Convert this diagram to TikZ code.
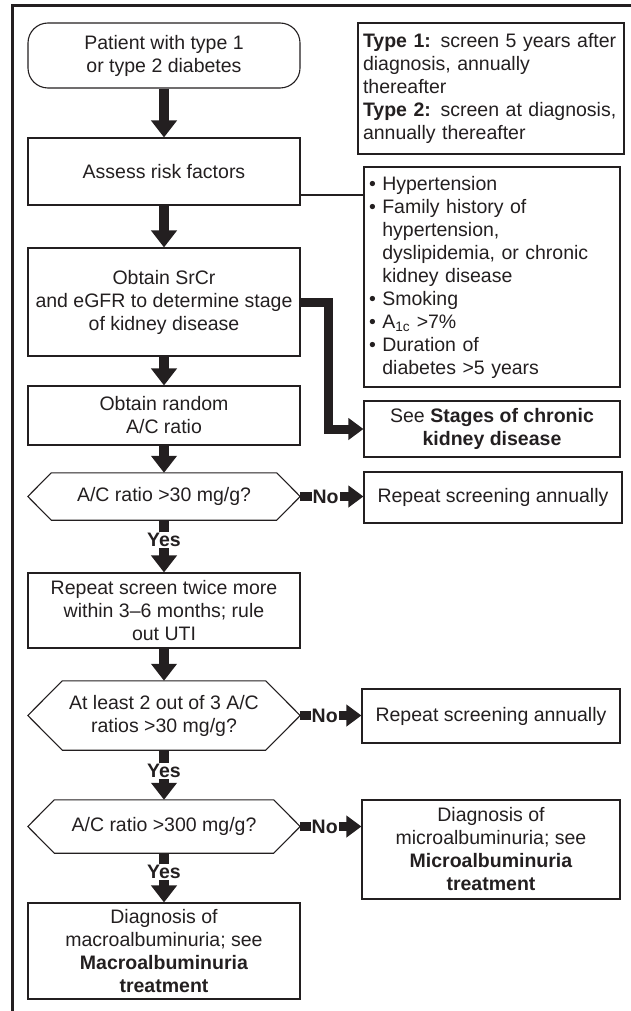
\documentclass[tikz,border=0pt]{standalone}
\usepackage{fontspec}
\setmainfont{Liberation Sans}
\usetikzlibrary{arrows.meta,calc}
\definecolor{ink}{HTML}{231F20}
\newcommand\hangsp{\phantom{\textbullet\ }}

\begin{document}
\begin{tikzpicture}[x=1pt,y=-1pt,
  every node/.style={font=\fontsize{19.5}{23}\selectfont,text=ink},
  box/.style={draw=ink,line width=1.1pt,minimum width=272pt,align=center,inner sep=2pt},
  startbox/.style={box,rounded corners=20pt},
  notebox/.style={draw=ink,line width=1.1pt,align=left,inner sep=5pt},
  decision/.style={align=center,inner sep=0pt},
  flow/.style={draw=ink,line width=10pt,line join=miter,-{Triangle[length=17pt,width=25pt]}},
  sideflow/.style={flow,line width=9pt,-{Triangle[length=15pt,width=21pt]}},
  answer/.style={fill=white,inner sep=1pt,font=\fontsize{19.5}{23}\selectfont\bfseries},
]
  % Configurable parameters
  \def\colx{164}
  %
  \useasboundingbox (0,0) rectangle (631,1011);
  %
  % Frame
  \draw[ink,line width=3pt] (12.5,1011) -- (12.5,5.5) -- (631,5.5);
  %
  % Main column
  \node[startbox,minimum height=65pt] (start) at (\colx,55.5)
    {Patient with type 1\\or type 2 diabetes};
  \node[box,minimum height=67pt] (assess) at (\colx,171.5) {Assess risk factors};
  \node[box,minimum height=108pt] (srcr) at (\colx,302)
    {Obtain SrCr\\and eGFR to determine stage\\of kidney disease};
  \node[box,minimum height=59pt] (random) at (\colx,415.5) {Obtain random\\A/C ratio};
  \node[decision,minimum width=225pt,minimum height=47pt] (d1) at (\colx,496.5)
    {A/C ratio >30 mg/g?};
  \node[box,minimum height=75pt] (screen) at (\colx,610.5)
    {Repeat screen twice more\\within 3--6 months; rule\\out UTI};
  \node[decision,minimum width=203pt,minimum height=69pt] (d2) at (\colx,715.5)
    {At least 2 out of 3 A/C\\ratios >30 mg/g?};
  \node[decision,minimum width=219pt,minimum height=53pt] (d3) at (\colx,826.5)
    {A/C ratio >300 mg/g?};
  \node[box,minimum height=96pt] (macro) at (\colx,951)
    {Diagnosis of\\macroalbuminuria; see\\\textbf{Macroalbuminuria}\\\textbf{treatment}};
  %
  % Decision outlines
  \foreach \d/\h in {d1/23.5,d2/34.5,d3/26.5}{
    \draw[ink,line width=1.1pt] (\d.north west) -- (\d.north east)
      -- ($(\d.east)+(\h,0)$) -- (\d.south east) -- (\d.south west)
      -- ($(\d.west)+(-\h,0)$) -- cycle;
    \coordinate (\d r) at ($(\d.east)+(\h,0)$);
  }
  %
  % Right column
  \node[notebox,text width=256pt,minimum height=131pt] (types) at (491,88.5)
    {\textbf{Type 1:} screen 5 years after\\diagnosis, annually\\thereafter\\
     \textbf{Type 2:} screen at diagnosis,\\annually thereafter};
  \node[notebox,text width=246pt,minimum height=220pt] (risk) at (492,277)
    {\textbullet\ Hypertension\\
     \textbullet\ Family history of\\
     \hangsp hypertension,\\
     \hangsp dyslipidemia, or chronic\\
     \hangsp kidney disease\\
     \textbullet\ Smoking\\
     \textbullet\ A\textsubscript{1c} >7\%\\
     \textbullet\ Duration of\\
     \hangsp diabetes >5 years};
  \node[box,minimum width=256pt,minimum height=56pt] (stages) at (492,429)
    {See \textbf{Stages of chronic}\\\textbf{kidney disease}};
  \node[box,minimum width=258pt,minimum height=51pt] (rep1) at (493,497.5)
    {Repeat screening annually};
  \node[box,minimum width=258pt,minimum height=54pt] (rep2) at (491,716)
    {Repeat screening annually};
  \node[box,minimum width=258pt,minimum height=99pt] (micro) at (491,849.5)
    {Diagnosis of\\microalbuminuria; see\\\textbf{Microalbuminuria}\\\textbf{treatment}};
  %
  % Connecting lines
  \coordinate (riskfrom) at ([yshift=-23.5pt]assess.east);
  \draw[ink,line width=1.1pt] (riskfrom) -- (riskfrom -| risk.west);
  \draw[flow] (start) -- (assess);
  \draw[flow] (assess) -- (srcr);
  \draw[flow] (srcr) -- (random);
  \draw[flow] (random) -- (d1);
  \draw[sideflow] (srcr.east) -- ++(28,0) |- (stages.west);
  %
  % Answers
  \draw[sideflow] (d1r) -- node[answer,pos=0.4] {No} (d1r -| rep1.west);
  \draw[sideflow] (d2r) -- node[answer,pos=0.4] {No} (d2r -| rep2.west);
  \draw[sideflow] (d3r) -- node[answer,pos=0.4] {No} (d3r -| micro.west);
  \draw[flow] (d1.south) -- node[answer,pos=0.38] {Yes} (screen.north);
  \draw[flow] (screen) -- (d2);
  \draw[flow] (d2.south) -- node[answer,pos=0.42] {Yes} (d3.north);
  \draw[flow] (d3.south) -- node[answer,pos=0.38] {Yes} (macro.north);
  %
\end{tikzpicture}
\end{document}
